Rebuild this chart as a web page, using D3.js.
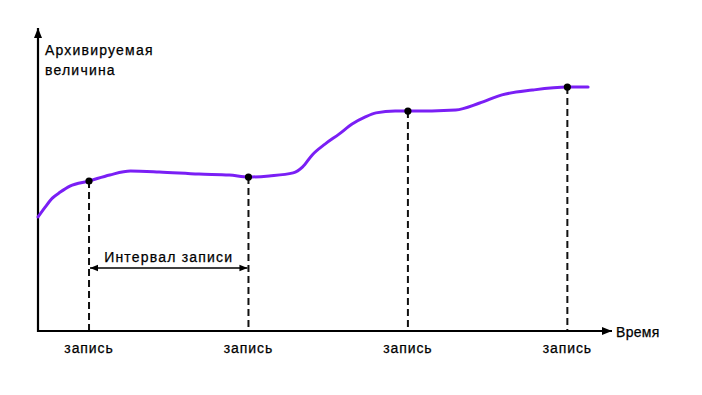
<!DOCTYPE html>
<html><head><meta charset="utf-8">
<script src="https://cdn.jsdelivr.net/npm/d3@7"></script>
<style>body{margin:0;background:#fff}svg{display:block}text{font-family:"Liberation Sans",Arial,sans-serif;fill:#000}</style>
</head><body>
<svg id="c" width="702" height="395"></svg>
<script>
const curveT = [0.68,0.725,0.77,0.82,0.88,1.0,1.13,1.26,1.44,1.69,1.88,2.0,2.13,2.28,2.34,2.40,2.48,2.57,2.65,2.73,2.80,2.92,3.0,3.30,3.45,3.59,3.78,4.0,4.13];
const curveV = [38,41.3,44.3,46.3,48.3,50,52,53.3,53,52.3,52,51.3,51.7,52.7,54.7,58.7,62.3,65.7,69,71.3,72.7,73.3,73.3,73.7,76,78.7,80.3,81.3,81.3];
const recordT = [1,2,3,4];
const recordV = [50,51.3,73.3,81.3];
const recordLabels = ["запись","запись","запись","запись"];
const yTitle = ["Архивируемая","величина"];
const xTitle = "Время";
const intervalLabel = "Интервал записи";

const svg = d3.select("#c");
const x = d3.scaleLinear().domain([0.68,4.28]).range([38,612]);
const y = d3.scaleLinear().domain([0,100]).range([331,31]);

const defs = svg.append("defs");
defs.append("marker").attr("id","ah").attr("viewBox","0 0 10 10").attr("refX",10).attr("refY",5)
  .attr("markerWidth",10).attr("markerHeight",10).attr("markerUnits","userSpaceOnUse").attr("orient","auto-start-reverse")
  .append("path").attr("d","M0,1 L10,5 L0,9 Z").attr("fill","#000");
defs.append("marker").attr("id","ah2").attr("viewBox","0 0 10 10").attr("refX",10).attr("refY",5)
  .attr("markerWidth",9).attr("markerHeight",8).attr("markerUnits","userSpaceOnUse").attr("orient","auto-start-reverse")
  .append("path").attr("d","M0,1 L10,5 L0,9 Z").attr("fill","#000");

// dashed drop lines
svg.selectAll("line.drop").data(recordT).join("line").attr("class","drop")
  .attr("x1",d=>x(d)).attr("x2",d=>x(d))
  .attr("y1",(d,i)=>y(recordV[i])).attr("y2",y(0))
  .attr("stroke","#111").attr("stroke-width",2).attr("stroke-dasharray","7,4");

// axes
svg.append("line").attr("x1",x(0.68)).attr("x2",x(0.68)).attr("y1",y(0)+1).attr("y2",y(100)-3)
  .attr("stroke","#000").attr("stroke-width",2.2).attr("marker-end","url(#ah)");
svg.append("line").attr("x1",x(0.68)-1).attr("x2",x(4.28)).attr("y1",y(0)).attr("y2",y(0))
  .attr("stroke","#000").attr("stroke-width",2.2).attr("marker-end","url(#ah)");

// curve
const pts = curveT.map((t,i)=>[x(t),y(curveV[i])]);
svg.append("path").attr("d",d3.line().curve(d3.curveMonotoneX)(pts))
  .attr("fill","none").attr("stroke","#7a1ff5").attr("stroke-width",3).attr("stroke-linecap","round");

// dots
svg.selectAll("circle").data(recordT).join("circle")
  .attr("cx",d=>x(d)).attr("cy",(d,i)=>y(recordV[i])).attr("r",3.6).attr("fill","#000");

// interval arrow
svg.append("line").attr("x1",x(recordT[0])+1).attr("x2",x(recordT[1])-1).attr("y1",268).attr("y2",268)
  .attr("stroke","#000").attr("stroke-width",1.6)
  .attr("marker-start","url(#ah2)").attr("marker-end","url(#ah2)");
svg.append("text").attr("x",(x(recordT[0])+x(recordT[1]))/2).attr("y",262).attr("text-anchor","middle")
  .attr("font-size",14).attr("letter-spacing","1.2px").attr("stroke","#000").attr("stroke-width",0.25).text(intervalLabel);

// labels
svg.selectAll("text.rec").data(recordT).join("text").attr("class","rec")
  .attr("x",d=>x(d)).attr("y",353).attr("text-anchor","middle")
  .attr("font-size",14).attr("letter-spacing","0.9px").attr("stroke","#000").attr("stroke-width",0.25)
  .text((d,i)=>recordLabels[i]);

svg.append("text").attr("x",616).attr("y",337).attr("font-size",14).attr("letter-spacing","0.3px")
  .attr("stroke","#000").attr("stroke-width",0.25).text(xTitle);
svg.selectAll("text.yt").data(yTitle).join("text").attr("class","yt")
  .attr("x",45).attr("y",(d,i)=>55+i*20).attr("font-size",14).attr("letter-spacing","1.2px")
  .attr("stroke","#000").attr("stroke-width",0.25).text(d=>d);
</script>
</body></html>
